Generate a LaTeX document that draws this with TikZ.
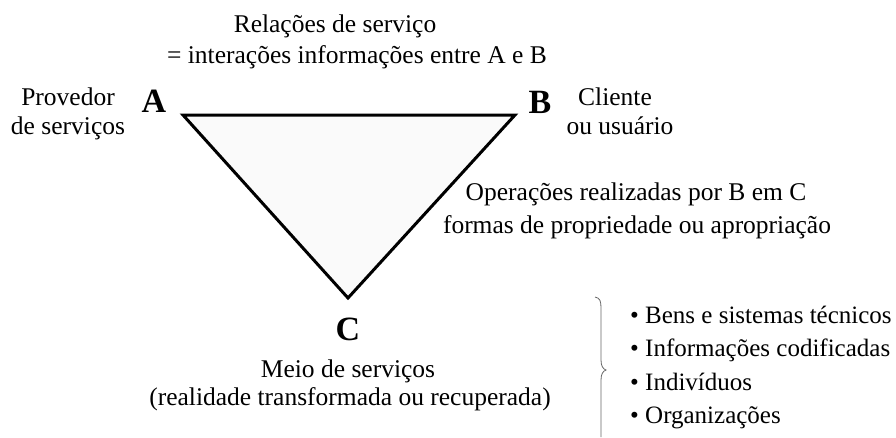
\documentclass[tikz,border=0pt]{standalone}
\usepackage{fontspec}
\setmainfont{Liberation Serif}
\begin{document}
\begin{tikzpicture}[x=1pt,y=-1pt,
  txt/.style={font=\fontsize{25.5}{28.5}\selectfont, inner sep=0pt, anchor=base},
  vlab/.style={font=\fontsize{34}{38}\selectfont\bfseries, inner sep=0pt, anchor=base},
  item/.style={font=\fontsize{25}{29}\selectfont, inner sep=0pt, anchor=base west}]
\useasboundingbox (0,0) rectangle (896,437);
\coordinate (pA) at (183,115);
\coordinate (pB) at (515,115);
\coordinate (pC) at (348,298);
\draw[line width=3pt, fill=black!2, line join=miter] (pA) -- (pB) -- (pC) -- cycle;
\node[txt] (rel1) at (335,32) {Relações de serviço};
\node[txt] (rel2) at (357,63) {= interações informações entre A e B};
\node[txt] (prov1) at (68,105) {Provedor};
\node[txt] (prov2) at (68,134) {de serviços};
\node[vlab] (A) at (154,112) {A};
\node[vlab] (B) at (540,113) {B};
\node[txt] (cli1) at (615,105) {Cliente};
\node[txt] (cli2) at (620,134) {ou usuário};
\node[txt] (op1) at (636,200) {Operações realizadas por B em C};
\node[txt] (op2) at (637,233) {formas de propriedade ou apropriação};
\node[vlab] (C) at (348,340) {C};
\node[txt] (m1) at (348,377) {Meio de serviços};
\node[txt] (m2) at (350,405) {(realidade transformada ou recuperada)};
\draw[black!60, line width=0.8pt] (595,297) .. controls (600,298) and (601,301) .. (601,308) -- (601,360) .. controls (601,366) and (603,369) .. (606,370) .. controls (603,371) and (601,374) .. (601,380) -- (601,437);
\node[item] (i1) at (630,323) {\textbullet\ Bens e sistemas técnicos};
\node[item] (i2) at (630,356) {\textbullet\ Informações codificadas};
\node[item] (i3) at (630,390) {\textbullet\ Indivíduos};
\node[item] (i4) at (630,423) {\textbullet\ Organizações};
\end{tikzpicture}
\end{document}
